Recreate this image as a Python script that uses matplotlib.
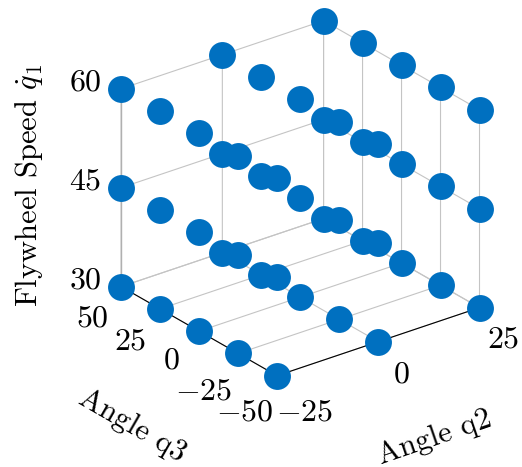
import numpy as np
import matplotlib
matplotlib.use('Agg')
import matplotlib.pyplot as plt
from mpl_toolkits.mplot3d import proj3d

q2_vals = [-25, 0, 25]
q3_vals = [-50, -25, 0, 25, 50]
q1_vals = [30, 45, 60]
q2_ticks = [-25, 0, 25]
q3_ticks = [-50, -25, 0, 25, 50]
q1_ticks = [30, 45, 60]

plt.rcParams['font.family'] = 'cmr10'
plt.rcParams['mathtext.fontset'] = 'cm'
plt.rcParams['axes.unicode_minus'] = False
FS = 22
TICK_FS = 23
BLUE = '#0070C0'
GRID = '#C4C4C4'

fig = plt.figure(figsize=(5.22, 4.67), dpi=100)
ax = fig.add_axes([33 / 522, 29 / 467, 1, 1], projection='3d', proj_type='ortho')
ax.patch.set_alpha(0)
ax.set_box_aspect((255, 256, 220), zoom=0.88)
ax.view_init(elev=26, azim=-127.5)
ax.set_xlim(-25, 25, view_margin=0)
ax.set_ylim(-50, 50, view_margin=0)
ax.set_zlim(30, 60, view_margin=0)

for a in (ax.xaxis, ax.yaxis, ax.zaxis):
    a.set_pane_color((1, 1, 1, 0))
    a.pane.set_edgecolor((1, 1, 1, 0))
    a.line.set_color((1, 1, 1, 0))
    a._axinfo['grid']['color'] = GRID
    a._axinfo['grid']['linewidth'] = 0.8
    a._axinfo['tick']['inward_factor'] = 0
    a._axinfo['tick']['outward_factor'] = 0
ax.set_xticks(q2_ticks)
ax.set_yticks(q3_ticks)
ax.set_zticks(q1_ticks)
ax.set_xticklabels([])
ax.set_yticklabels([])
ax.set_zticklabels([])

# box outline, front edges black and the rest gray like the grid
ax.plot([-25, 25], [-50, -50], [30, 30], color='k', lw=0.8, zorder=1)
ax.plot([-25, -25], [-50, 50], [30, 30], color='k', lw=0.8, zorder=1)
ax.plot([-25, -25], [50, 50], [30, 60], color='#B0B0B0', lw=1.0, zorder=1)

Q2, Q3, Q1 = np.meshgrid(q2_vals, q3_vals, q1_vals)
ax.scatter(Q2.ravel(), Q3.ravel(), Q1.ravel(), s=375, c=BLUE, linewidths=0,
           depthshade=False, alpha=1, zorder=5)


def label(x, y, z, s, dx, dy):
    # text offset in pixels from a projected 3d location
    px, py, _ = proj3d.proj_transform(x, y, z, ax.get_proj())
    ax.annotate(s, (px, py), xytext=(dx * 0.72, -dy * 0.72), textcoords='offset points',
                ha='center', va='center', fontsize=TICK_FS, annotation_clip=False)


for v, (dx, dy) in zip(q2_ticks, [(28, 37), (23, 33), (24, 32)]):
    label(v, -50, 30, '$%d$' % v, dx, dy)
for v, (dx, dy) in zip(q3_ticks, [(-32, 37), (-34, 38), (-28, 30), (-30, 33), (-29, 32)]):
    label(-25, v, 30, '$%d$' % v, dx, dy)
for v in q1_ticks:
    label(-25, 50, v, '$%d$' % v, -36, -6)

fig.text(0.056, 0.604, r'Flywheel Speed $\dot{q}_1$', rotation=90, ha='center', va='center', fontsize=FS)
fig.text(0.253, 0.088, 'Angle q3', rotation=-30, ha='center', va='center', fontsize=FS, rotation_mode='anchor')
fig.text(0.833, 0.062, 'Angle q2', rotation=19, ha='center', va='center', fontsize=FS, rotation_mode='anchor')

fig.savefig('out.png', dpi=100)
